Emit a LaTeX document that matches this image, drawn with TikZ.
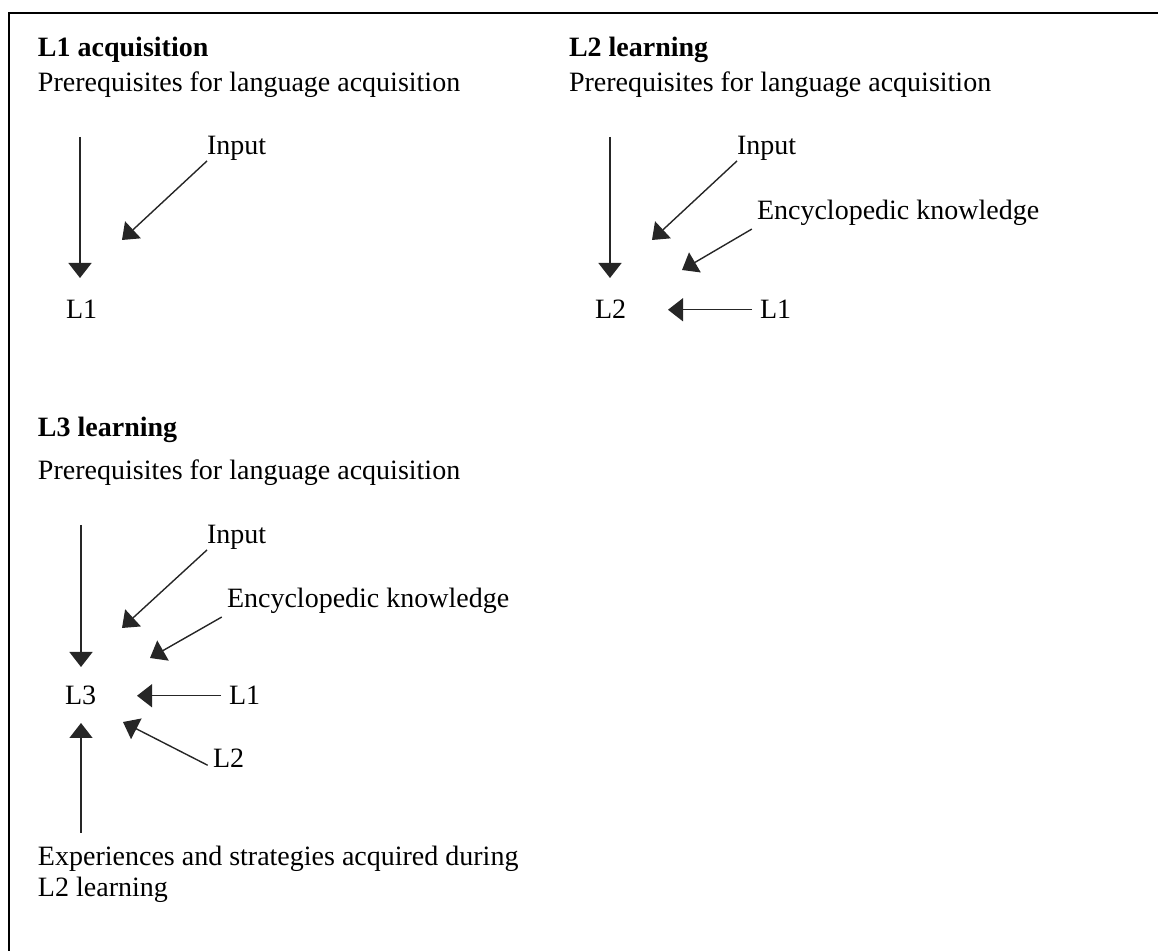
\documentclass[tikz,border=0pt]{standalone}
\usepackage{fontspec}
\setmainfont{Liberation Serif}
\usetikzlibrary{arrows.meta}
\tikzset{
  txt/.style={inner sep=0pt, outer sep=0pt, anchor=base west, font=\fontsize{14}{15.5}\selectfont},
  head/.style={txt, font=\fontsize{14}{15.5}\selectfont\bfseries},
  arr/.style={draw=black!85, line width=0.7pt, -{Triangle[width=11.5pt,length=7.5pt]}},
  frame/.style={line width=1pt}
}
\begin{document}
\begin{tikzpicture}[x=0.5pt,y=-0.5pt]
  \useasboundingbox (0,0) rectangle (1158,951);
  % frame
  \draw[frame] (1158,13) -- (9,13) -- (9,951);

  % L1 acquisition
  \node[head] (hA) at (38,57) {L1 acquisition};
  \node[txt] (pA) at (38,92) {Prerequisites for language acquisition};
  \node[txt] (inA) at (207,155) {Input};
  \node[txt] (lA) at (66,319) {L1};
  \coordinate (topA) at (80,137);
  \coordinate (tipA) at (80,278);
  \coordinate (inTipA) at (122,240);
  \draw[arr] (topA) -- (tipA);
  \draw[arr] (inA.south west) -- (inTipA);

  % L2 learning
  \node[head] (hB) at (569,57) {L2 learning};
  \node[txt] (pB) at (569,92) {Prerequisites for language acquisition};
  \node[txt] (inB) at (737,155) {Input};
  \node[txt] (encB) at (757,220) {Encyclopedic knowledge};
  \node[txt] (lB) at (595,319) {L2};
  \node[txt] (lB1) at (760,319) {L1};
  \coordinate (topB) at (610,137);
  \coordinate (tipB) at (610,278);
  \coordinate (inTipB) at (652,240);
  \coordinate (encTipB) at (682,270);
  \coordinate (l1TipB) at (668,309);
  \draw[arr] (topB) -- (tipB);
  \draw[arr] (inB.south west) -- (inTipB);
  \draw[arr, shorten <=3pt] (encB.south west) -- (encTipB);
  \draw[arr, shorten <=4pt] (lB1.west) -- (lB1.west -| l1TipB);

  % L3 learning
  \node[head] (hC) at (38,437) {L3 learning};
  \node[txt] (pC) at (38,480) {Prerequisites for language acquisition};
  \node[txt] (inC) at (207,544) {Input};
  \node[txt] (encC) at (227,608) {Encyclopedic knowledge};
  \node[txt] (lC) at (65,705) {L3};
  \node[txt] (lC1) at (229,705) {L1};
  \node[txt] (lC2) at (213,768) {L2};
  \node[txt, align=left] (expC) at (38,897) {Experiences and strategies acquired during\\L2 learning};
  \coordinate (topC) at (81,525);
  \coordinate (tipC) at (81,667);
  \coordinate (inTipC) at (122,628);
  \coordinate (encTipC) at (150,658);
  \coordinate (l1TipC) at (137,695);
  \coordinate (l2TipC) at (123,722);
  \coordinate (botC) at (81,833);
  \coordinate (upTipC) at (81,723);
  \draw[arr] (topC) -- (tipC);
  \draw[arr] (inC.south west) -- (inTipC);
  \draw[arr, shorten <=3pt] (encC.south west) -- (encTipC);
  \draw[arr, shorten <=4pt] (lC1.west) -- (lC1.west -| l1TipC);
  \draw[arr, shorten <=3pt] (lC2.base west) -- (l2TipC);
  \draw[arr] (botC) -- (upTipC);
\end{tikzpicture}
\end{document}
